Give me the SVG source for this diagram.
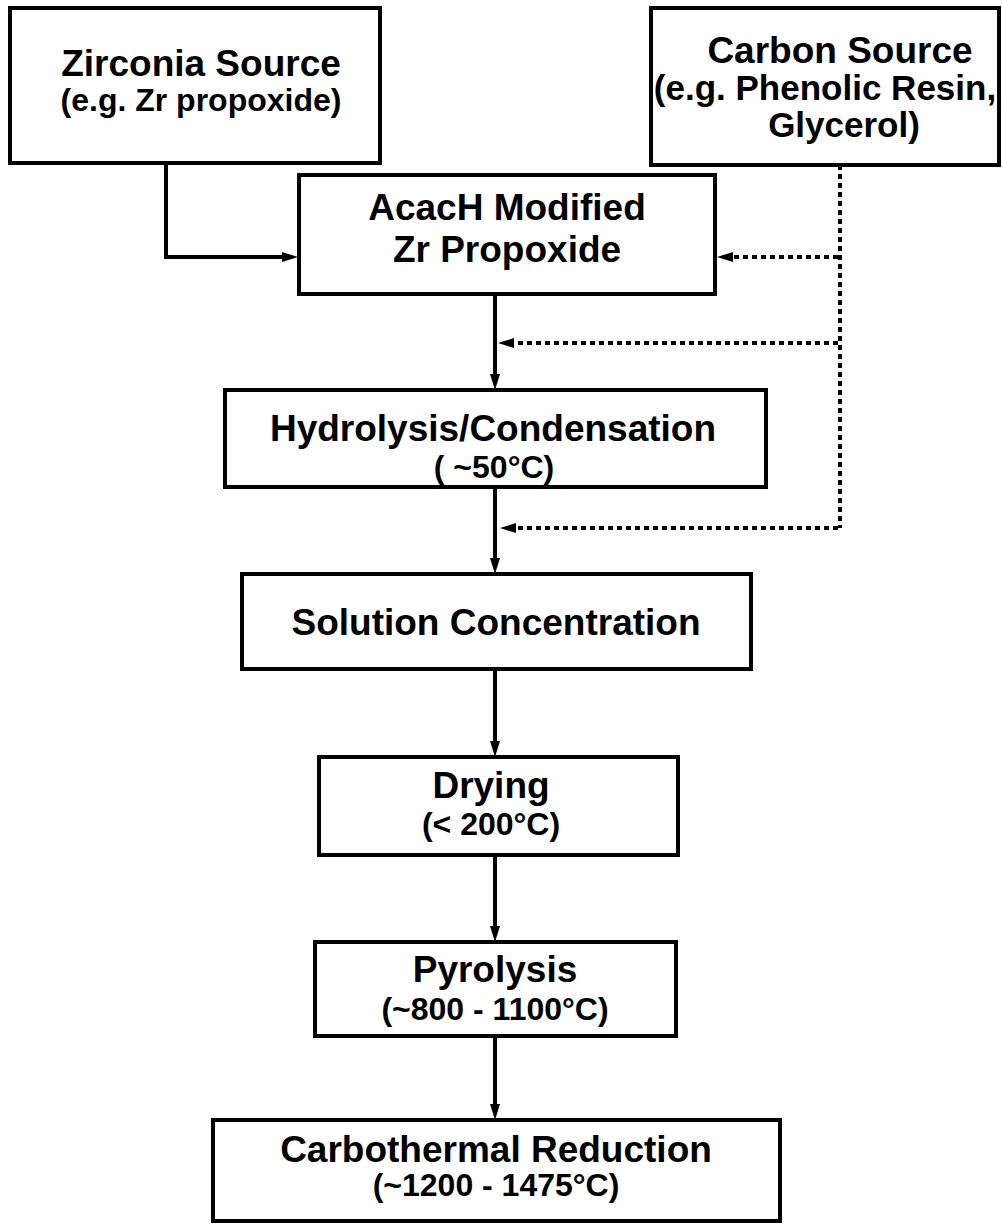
<svg xmlns="http://www.w3.org/2000/svg" width="1002" height="1224" viewBox="0 0 1002 1224">
<style>
.box{fill:#fff;stroke:#000;stroke-width:4}
.t{font-family:"Liberation Sans",Arial,sans-serif;font-weight:bold;font-size:37px;text-anchor:middle;fill:#000}
.s{font-size:32px}
.solid{fill:none;stroke:#000;stroke-width:4}
.dot{fill:none;stroke:#000;stroke-width:4;stroke-dasharray:5 4}
</style>
<defs>
<marker id="ah" markerUnits="userSpaceOnUse" viewBox="0 0 16 10" refX="4" refY="5" markerWidth="16" markerHeight="10" orient="auto">
<path d="M0,0 L16,5 L0,10 z" fill="#000"/>
</marker>
</defs>
<rect width="1002" height="1224" fill="#fff"/>
<g id="connectors">
<path class="solid" d="M166,163 V257 H286" marker-end="url(#ah)"/>
<path class="dot" d="M840,165 V528"/>
<path class="dot" d="M838,257 H729" marker-end="url(#ah)"/>
<path class="dot" d="M838,343 H510" marker-end="url(#ah)"/>
<path class="dot" d="M838,528 H512" marker-end="url(#ah)"/>
<path class="solid" d="M495,294 V378" marker-end="url(#ah)"/>
<path class="solid" d="M495,487 V562" marker-end="url(#ah)"/>
<path class="solid" d="M495,669 V745" marker-end="url(#ah)"/>
<path class="solid" d="M495,855 V930" marker-end="url(#ah)"/>
<path class="solid" d="M495,1036 V1108" marker-end="url(#ah)"/>
</g>
<g id="zirconia">
<rect class="box" x="10" y="8" width="370" height="155"/>
<text class="t" x="201" y="76">Zirconia Source</text>
<text class="t s" x="201" y="111">(e.g. Zr propoxide)</text>
</g>
<g id="carbon">
<rect class="box" x="651" y="8" width="348" height="157"/>
<text class="t" x="840" y="63">Carbon Source</text>
<text class="t" x="825" y="100" style="font-size:35px">(e.g. Phenolic Resin,</text>
<text class="t" x="844" y="137" style="font-size:35px">Glycerol)</text>
</g>
<g id="acach">
<rect class="box" x="299" y="175" width="416" height="119"/>
<text class="t" x="507" y="220">AcacH Modified</text>
<text class="t" x="507" y="262">Zr Propoxide</text>
</g>
<g id="hydrolysis">
<rect class="box" x="225" y="390" width="541" height="97"/>
<text class="t" x="493" y="441">Hydrolysis/Condensation</text>
<text class="t s" x="494" y="478">( ~50°C)</text>
</g>
<g id="solution">
<rect class="box" x="242" y="574" width="509" height="95"/>
<text class="t" x="496" y="635">Solution Concentration</text>
</g>
<g id="drying">
<rect class="box" x="319" y="757" width="359" height="98"/>
<text class="t" x="491" y="798">Drying</text>
<text class="t s" x="491" y="835">(&lt; 200°C)</text>
</g>
<g id="pyrolysis">
<rect class="box" x="315" y="942" width="361" height="94"/>
<text class="t" x="495" y="982">Pyrolysis</text>
<text class="t s" x="495" y="1020">(~800 - 1100°C)</text>
</g>
<g id="carbothermal">
<rect class="box" x="213" y="1120" width="567" height="101"/>
<text class="t" x="496" y="1162">Carbothermal Reduction</text>
<text class="t s" x="496" y="1196">(~1200 - 1475°C)</text>
</g>
</svg>
